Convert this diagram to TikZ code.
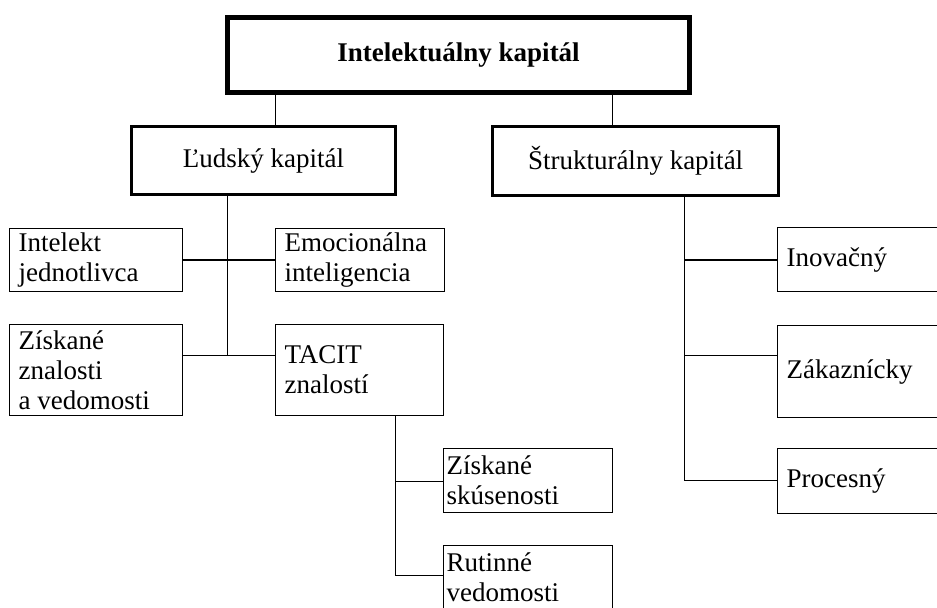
\documentclass[tikz,border=0pt]{standalone}
\usepackage{fontspec}
\setmainfont{Liberation Serif}
\usepackage{tikz}
\usetikzlibrary{positioning}

\begin{document}
\begin{tikzpicture}[x=0.5pt, y=-0.5pt,
    txt/.style={font=\fontsize{13.5}{15}\selectfont},
    headbox/.style={draw, rectangle, anchor=north west, inner sep=0pt, txt},
    leafbox/.style={draw, rectangle, anchor=north west, align=flush left,
        inner xsep=4.5pt, inner ysep=0pt, line width=0.6pt, txt},
    link/.style={line width=0.5pt}]
    % page frame
    \clip (0,0) rectangle (937,607);

    % top and second level
    \node[headbox, line width=2.6pt, minimum width=231pt, minimum height=37.5pt,
        font=\fontsize{13.5}{15}\selectfont\bfseries] (ic) at (225,15) {Intelektuálny kapitál};
    \node[headbox, line width=1.6pt, minimum width=132pt, minimum height=34pt] (hc) at (130,125) {Ľudský kapitál};
    \node[headbox, line width=1.6pt, minimum width=143pt, minimum height=34.5pt] (sc) at (491,125) {Štrukturálny kapitál};

    % human capital parts
    \node[leafbox, text width=77.5pt, minimum height=31.5pt] (intel) at (9,228) {Intelekt\\jednotlivca};
    \node[leafbox, text width=75.5pt, minimum height=31.5pt] (emo) at (275,228) {Emocionálna\\inteligencia};
    \node[leafbox, text width=77.5pt, minimum height=45.5pt] (know) at (9,324) {Získané\\znalosti\\a vedomosti};
    \node[leafbox, text width=75pt, minimum height=45.5pt] (tacit) at (275,324) {TACIT\\znalostí};
    \node[leafbox, inner xsep=1.5pt, text width=81.5pt, minimum height=32pt] (exp) at (443,448) {Získané\\skúsenosti};
    \node[leafbox, inner xsep=1.5pt, text width=81.5pt, minimum height=32pt] (rut) at (443,545) {Rutinné\\vedomosti};

    % structural capital parts
    \node[leafbox, text width=100pt, minimum height=32pt] (inov) at (777,227) {Inovačný};
    \node[leafbox, text width=100pt, minimum height=46pt] (cust) at (777,325) {Zákaznícky};
    \node[leafbox, text width=100pt, minimum height=32.5pt] (proc) at (777,448) {Procesný};

    % free ends of the trunks
    \coordinate (hend) at (227,355);
    \coordinate (tend) at (395,575);
    \coordinate (send) at (684,480);

    % from the top
    \draw[link] (ic.south -| 275,0) -- (hc.north -| 275,0);
    \draw[link] (ic.south -| 612,0) -- (sc.north -| 612,0);

    % left trunk
    \draw[link] (hc.south -| hend) -- (hend);
    \draw[line width=0.9pt] (intel.east) -- (emo.west);
    \draw[link] (know.east |- hend) -- (tacit.west |- hend);

    % tacit trunk
    \draw[link] (tacit.south -| tend) -- (tend);
    \draw[link] (tend |- 0,481) -- (exp.west |- 0,481);
    \draw[link] (tend) -- (rut.west |- tend);

    % right trunk
    \draw[link] (sc.south -| send) -- (send);
    \draw[line width=0.9pt] (send |- 0,260) -- (inov.west |- 0,260);
    \draw[link] (send |- 0,355) -- (cust.west |- 0,355);
    \draw[link] (send) -- (proc.west |- send);

\end{tikzpicture}
\end{document}
